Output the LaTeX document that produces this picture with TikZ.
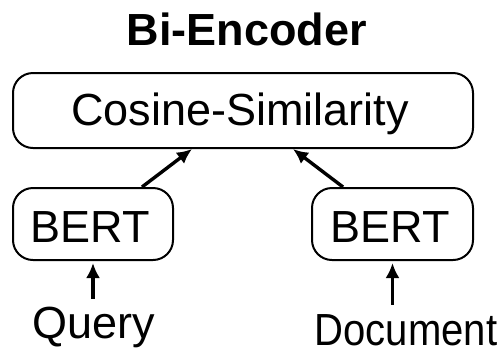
\documentclass[tikz,border=0pt]{standalone}
\usepackage{fontspec}
\setmainfont{Liberation Sans}
\usetikzlibrary{arrows.meta}
\begin{document}
\begin{tikzpicture}[x=1pt,y=-1pt,
  lbl/.style={inner sep=0pt, font=\fontsize{45}{50}\selectfont},
  blk/.style={draw, line width=2pt, rounded corners=20pt, inner sep=0pt},
  arr/.style={line width=3.4pt, -{Latex[length=15pt,width=14pt]}}]
\useasboundingbox (0,0) rectangle (503,360);
% title
\node[lbl, anchor=base, font=\bfseries\fontsize{45}{50}\selectfont] (title) at (247,45) {Bi-Encoder};
% similarity block and the two encoders
\node[blk, minimum width=460pt, minimum height=75pt] (cs) at (243,110.5) {};
\node[lbl, anchor=base] (cstext) at (240,125) {Cosine-Similarity};
\node[blk, minimum width=160pt, minimum height=72pt] (bl) at (93,224) {};
\node[lbl, anchor=base] (bltext) at (90,242) {BERT};
\node[blk, minimum width=161pt, minimum height=72pt] (br) at (392.5,224) {};
\node[lbl, anchor=base] (brtext) at (390,242) {BERT};
% inputs
\node[lbl, anchor=base, text height=32pt, text depth=9pt] (q) at (94,338) {Query};
\node[lbl, anchor=base, text height=32pt, text depth=9pt] (d) at (406,345)
  {\scalebox{0.89}[1]{Document}};
% connectors
\draw[arr, shorten <=7pt, shorten >=2pt] (q.north -| bl.south) -- (bl.south);
\draw[arr, shorten <=8pt, shorten >=2pt] (d.north -| br.south) -- (br.south);
\draw[arr] ([xshift=49pt]bl.north) -- ([xshift=-51pt]cs.south);
\draw[arr] ([xshift=-49.5pt]br.north) -- ([xshift=50pt]cs.south);
\end{tikzpicture}
\end{document}
